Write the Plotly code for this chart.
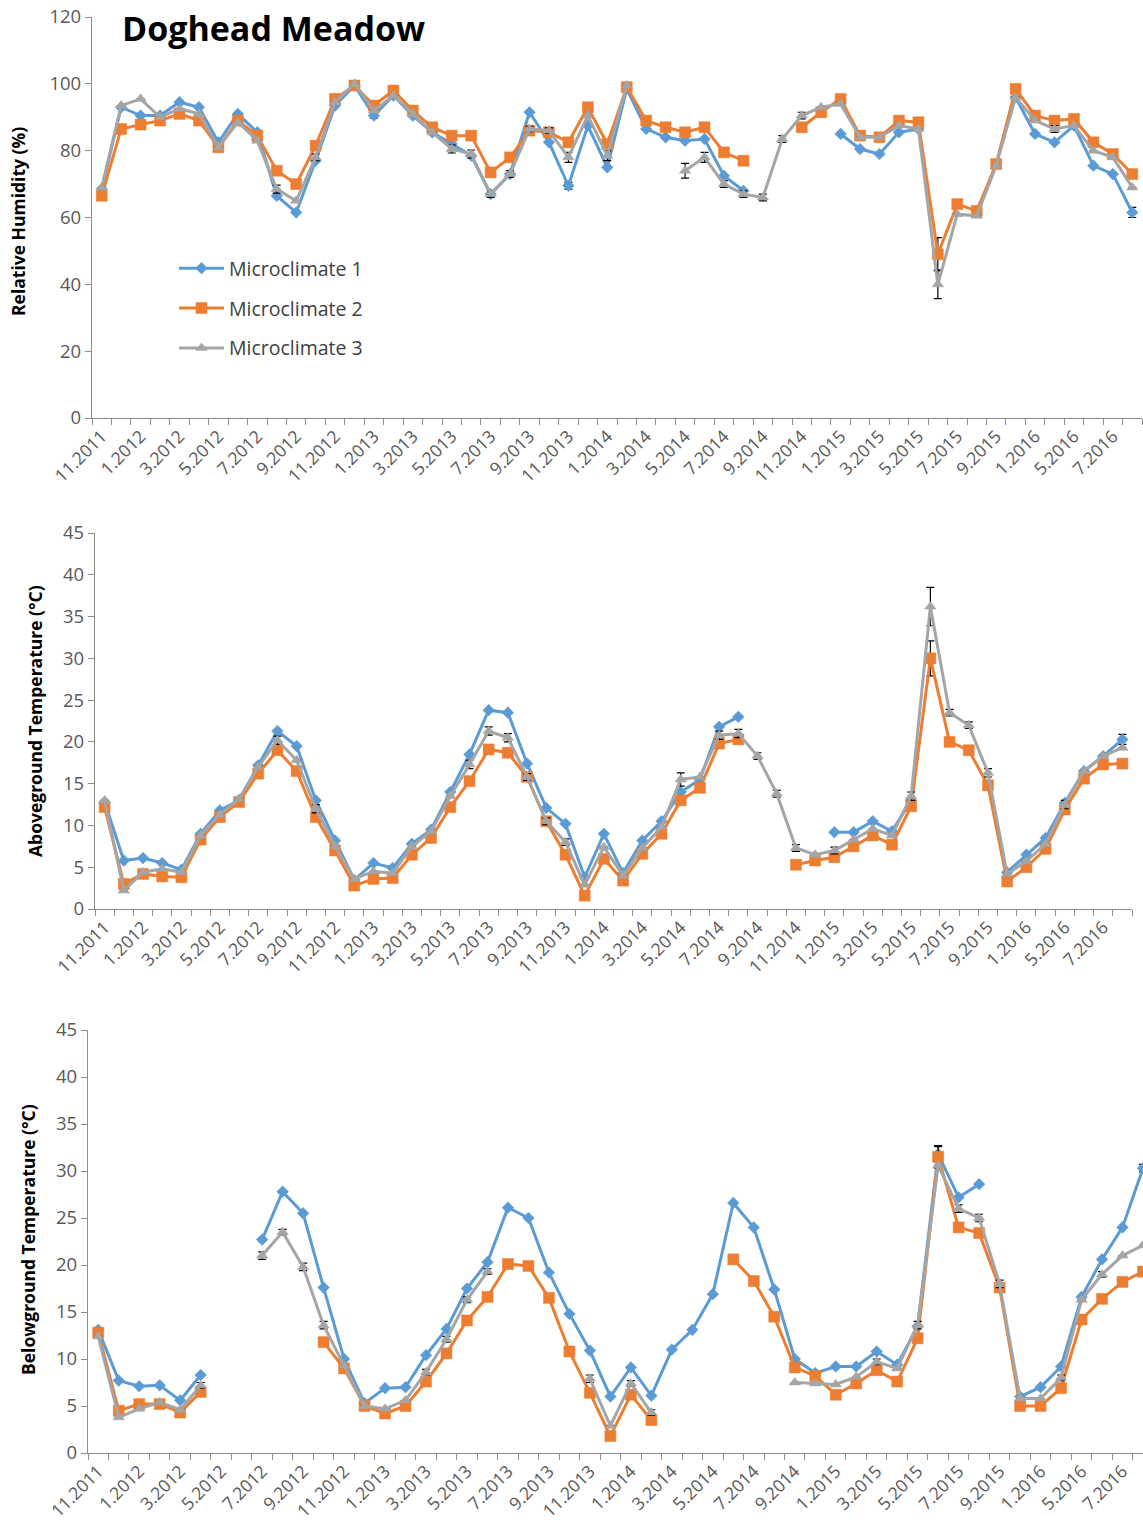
import plotly.graph_objects as go

# ---------------- categories ----------------
months = ["11.2011", "12.2011", "1.2012", "2.2012", "3.2012", "4.2012", "5.2012", "6.2012",
          "7.2012", "8.2012", "9.2012", "10.2012", "11.2012", "12.2012", "1.2013", "2.2013",
          "3.2013", "4.2013", "5.2013", "6.2013", "7.2013", "8.2013", "9.2013", "10.2013",
          "11.2013", "12.2013", "1.2014", "2.2014", "3.2014", "4.2014", "5.2014", "6.2014",
          "7.2014", "8.2014", "9.2014", "10.2014", "11.2014", "12.2014", "1.2015", "2.2015",
          "3.2015", "4.2015", "5.2015", "6.2015", "7.2015", "8.2015", "9.2015", "12.2015",
          "1.2016", "3.2016", "5.2016", "6.2016", "7.2016", "8.2016"]

months_bg = ["11.2011", "12.2011", "1.2012", "2.2012", "3.2012", "4.2012", "5.2012", "6.2012",
             "7.2012", "8.2012", "9.2012", "10.2012", "11.2012", "12.2012", "1.2013", "2.2013",
             "3.2013", "4.2013", "5.2013", "6.2013", "7.2013", "8.2013", "9.2013", "10.2013",
             "11.2013", "12.2013", "1.2014", "2.2014", "3.2014", "4.2014", "5.2014", "6.2014",
             "7.2014", "8.2014", "9.2014", "11.2014", "1.2015", "2.2015", "3.2015", "4.2015",
             "5.2015", "6.2015", "7.2015", "8.2015", "9.2015", "12.2015", "1.2016", "3.2016",
             "5.2016", "6.2016", "7.2016", "8.2016"]

series_names = ["Microclimate 1", "Microclimate 2", "Microclimate 3"]

# ---------------- Relative humidity (%) ----------------
rh_m1 = [68.5, 93, 90.5, 90.5, 94.5, 93, 82.5, 91, 85.5, 66.5, 61.5, 77, 93.5, 99.5, 90.5, 96.5,
         90.5, 85.5, 82, 78.5, 67, 73, 91.5, 82.5, 69.5, 87.5, 75, 98.5, 86.5, 84, 83, 83.5,
         72.5, 68, None, None, None, None, 85, 80.5, 79, 85.5, 86.5, None, None, None, None, 96,
         85, 82.5, 87.5, 75.5, 73, 61.5]
rh_m2 = [66.5, 86.5, 87.8, 89, 91, 89, 81, 89, 84.5, 74, 70, 81.5, 95.5, 99.5, 93.5, 98,
         92, 87, 84.5, 84.5, 73.5, 78, 86, 85.5, 82.5, 93, 82, 99, 89, 87, 85.5, 87,
         79.5, 77, None, None, 87, 91.5, 95.5, 84.5, 84, 89, 88.5, 49, 64, 62, 76, 98.5,
         90.5, 89, 89.5, 82.5, 79, 73]
rh_m3 = [69, 93.5, 95.5, 90, 92.5, 91, 81, 88.5, 83, 68.5, 65, 78, 94.5, 100, 92, 96.5,
         91, 85.5, 80.5, 79, 67, 73, 86.5, 86, 78, 90.5, 78.5, 99.5, None, None, 74, 78,
         70, 67, 66, 83.5, 90.5, 93, 94, 84, 84, 87.5, 86.5, 40, 61, 60.5, 75.5, 96,
         89, 86.5, 87.5, 80, 78, 69]
rh_e1 = [0, 0, 0, 0, 0, 0, 0, 0, 0, 0, 0, 0, 0, 0, 0.8, 0, 0, 0, 0, 0, 0, 0, 0, 0, 1.0, 0, 0, 0,
         0, 0, 0, 0, 0, 0, 0, 0, 0, 0, 0, 0, 0, 0, 0, 0, 0, 0, 0, 0, 0, 0, 0, 0, 0, 1.5]
rh_e2 = [0, 0, 0, 0, 0, 0, 0, 0, 0, 0, 0, 0, 0, 0, 0, 0, 0, 0, 0, 0, 0, 0, 0, 0, 0, 0, 0, 0,
         0, 0, 0, 0, 0, 0, 0, 0, 0, 0, 0, 0, 0, 0, 0, 5.0, 0, 0, 0, 0, 0, 0, 0, 0, 0, 0]
rh_e3 = [0, 0, 0, 0, 0, 0, 0, 0, 0, 1.2, 0, 1.0, 0, 0, 0, 0, 0, 0, 1.2, 1.2, 1.0, 1.0, 0.8, 0.8,
         1.5, 0, 1.5, 0, 0, 0, 2.2, 1.5, 1.0, 1.0, 1.0, 1.0, 1.0, 0, 0, 0, 0, 0, 0, 4.3, 0, 0,
         0, 0, 0, 1.0, 0, 0, 0, 0]

# ---------------- Aboveground temperature (°C) ----------------
ag_m1 = [12.8, 5.8, 6.1, 5.5, 4.7, 9.0, 11.8, 13.0, 17.2, 21.3, 19.5, 13.0, 8.2, 3.5, 5.5, 4.9,
         7.8, 9.5, 14.0, 18.5, 23.8, 23.5, 17.4, 12.1, 10.2, 3.8, 9.0, 4.3, 8.2, 10.5, 14.0, 15.5,
         21.8, 23.0, None, None, None, None, 9.2, 9.2, 10.5, 9.3, 13.0, None, None, None, None,
         4.4, 6.5, 8.5, 12.7, 16.5, 18.3, 20.3]
ag_m2 = [12.2, 3.0, 4.2, 3.9, 3.8, 8.3, 11.0, 12.8, 16.2, 19.0, 16.5, 11.0, 7.0, 2.8, 3.6, 3.7,
         6.5, 8.5, 12.2, 15.3, 19.1, 18.7, 15.8, 10.5, 6.5, 1.6, 6.0, 3.4, 6.6, 9.0, 13.0, 14.5,
         19.8, 20.3, None, None, 5.3, 5.8, 6.2, 7.5, 8.8, 7.7, 12.3, 30.0, 20.0, 19.0, 14.8,
         3.3, 5.0, 7.2, 11.9, 15.6, 17.3, 17.4]
ag_m3 = [13.0, 2.2, 4.4, 4.8, 4.4, 8.8, 11.3, 13.2, 17.0, 20.2, 17.8, 12.0, 7.5, 3.6, 4.5, 4.3,
         7.5, 9.3, 13.5, 17.3, 21.3, 20.5, 15.8, 10.5, 8.0, 2.9, 7.4, 4.0, 7.3, 9.8, 15.5, 15.8,
         20.8, 21.0, 18.3, 13.8, 7.3, 6.5, 7.0, 8.3, 9.6, 8.8, 13.5, 36.2, 23.5, 22.0, 16.3,
         4.2, 5.7, 7.8, 12.5, 16.5, 18.3, 19.3]
ag_e1 = [0] * 53 + [0.6]
ag_e2 = [0] * 43 + [2.1] + [0] * 10
ag_e3 = [0, 0, 0, 0, 0, 0, 0, 0, 0, 0.5, 0, 0.5, 0, 0, 0, 0, 0, 0, 0, 0.5, 0.5, 0.5, 0.4, 0.4,
         0.4, 0, 0, 0, 0, 0, 0.8, 0, 0.5, 0.5, 0.4, 0.4, 0.4, 0, 0.4, 0, 0, 0, 0.5, 2.3, 0.4, 0.4,
         0.5, 0, 0, 0, 0.5, 0, 0, 0]

# ---------------- Belowground temperature (°C) ----------------
bg_m1 = [13.1, 7.7, 7.1, 7.2, 5.6, 8.3, None, None, 22.7, 27.8, 25.5, 17.6, 10.0, 5.3, 6.9, 7.0,
         10.4, 13.2, 17.5, 20.3, 26.1, 25.0, 19.2, 14.8, 10.9, 6.0, 9.1, 6.1, 11.0, 13.1, 16.9,
         26.6, 24.0, 17.4, 10.0, 8.5, 9.2, 9.2, 10.8, 9.4, 13.5, 31.8, 27.2, 28.6, None, 6.0,
         7.0, 9.2, 16.6, 20.6, 24.0, 30.3]
bg_m2 = [12.8, 4.5, 5.2, 5.2, 4.3, 6.5, None, None, None, None, None, 11.8, 9.0, 5.0, 4.2, 5.0,
         7.6, 10.6, 14.1, 16.6, 20.1, 19.9, 16.5, 10.8, 6.4, 1.8, 6.2, 3.5, None, None, None,
         20.6, 18.3, 14.5, 9.1, 8.2, 6.2, 7.4, 8.8, 7.6, 12.2, 31.5, 24.0, 23.4, 17.6, 5.0,
         5.0, 6.9, 14.2, 16.4, 18.2, 19.3]
bg_m3 = [12.4, 3.8, 4.7, 5.4, 4.6, 7.2, None, None, 21.0, 23.5, 19.8, 13.6, 9.3, 5.0, 4.7, 5.6,
         8.6, 12.1, 16.3, 19.3, None, None, None, None, 7.9, 2.9, 7.4, 4.3, None, None, None,
         None, None, None, 7.5, 7.4, 7.3, 8.1, 9.7, 9.0, 13.6, 30.6, 26.0, 25.0, 18.0, 5.8,
         5.8, 8.0, 16.3, 19.0, 21.0, 22.1]
bg_e1 = [0] * 41 + [0.8] + [0] * 9 + [0.4]
bg_e2 = [0] * 41 + [1.2] + [0] * 10
bg_e3 = [0, 0, 0, 0, 0, 0.3, 0, 0, 0.4, 0.3, 0.4, 0.4, 0, 0, 0, 0, 0.3, 0.3, 0.3, 0.3, 0, 0,
         0, 0, 0.4, 0, 0.3, 0.3, 0, 0, 0, 0, 0, 0, 0, 0, 0, 0, 0.3, 0, 0.4, 0, 0.4, 0.4, 0.4,
         0, 0, 0.3, 0, 0.3, 0, 0]

# ---------------- styling ----------------
W, H = 1143, 1533
FONT = "Open Sans"
colors = ["#5B9BD5", "#ED7D31", "#A5A5A5"]
symbols = ["diamond", "square", "triangle-up"]
msizes = [9, 11, 10]
AXIS_COLOR = "#8C8C8C"
TICK_FONT_COLOR = "#595959"


def px_x(a, b):
    return [a / W, b / W]


def px_y(top, bottom):
    return [1 - bottom / H, 1 - top / H]


fig = go.Figure()

panels = [
    ("x", "y", months, [rh_m1, rh_m2, rh_m3], [rh_e1, rh_e2, rh_e3], True),
    ("x2", "y2", months, [ag_m1, ag_m2, ag_m3], [ag_e1, ag_e2, ag_e3], False),
    ("x3", "y3", months_bg, [bg_m1, bg_m2, bg_m3], [bg_e1, bg_e2, bg_e3], False),
]

for xa, ya, cats, ser, errs, show in panels:
    for k in range(3):
        fig.add_trace(go.Scatter(
            x=cats, y=ser[k], xaxis=xa, yaxis=ya,
            name=series_names[k], legendgroup=series_names[k], showlegend=show,
            mode="lines+markers",
            line=dict(color=colors[k], width=3),
            marker=dict(symbol=symbols[k], size=msizes[k], color=colors[k],
                        line=dict(color=colors[k], width=0.5)),
            error_y=dict(type="data", array=errs[k], color="black", thickness=1.2, width=4,
                         visible=True),
            connectgaps=False,
        ))


def xaxis_cfg(cats, domain, rng, anchor):
    return dict(
        domain=domain, anchor=anchor, type="category", categoryorder="array",
        categoryarray=cats, range=rng, tickmode="array", tickvals=cats,
        ticktext=[c if i % 2 == 0 else "" for i, c in enumerate(cats)],
        tickson="boundaries", ticks="outside", ticklen=6, tickcolor=AXIS_COLOR, tickwidth=1,
        tickangle=-45, tickfont=dict(family=FONT, size=17.5, color=TICK_FONT_COLOR),
        showline=True, linecolor=AXIS_COLOR, linewidth=1.3, showgrid=False, zeroline=False,
        automargin=False, fixedrange=True,
    )


def yaxis_cfg(domain, rng, dtick, anchor):
    return dict(
        domain=domain, range=rng, dtick=dtick, tick0=0, anchor=anchor,
        ticks="outside", ticklen=6, tickcolor=AXIS_COLOR, tickwidth=1,
        tickfont=dict(family=FONT, size=18.5, color=TICK_FONT_COLOR),
        showline=True, linecolor=AXIS_COLOR, linewidth=1.3, showgrid=False, zeroline=False,
        automargin=False, fixedrange=True,
    )


fig.update_layout(
    width=W, height=H,
    margin=dict(l=0, r=0, t=0, b=0, autoexpand=False),
    paper_bgcolor="white", plot_bgcolor="white",
    font=dict(family=FONT, color="#404040"),
    xaxis=xaxis_cfg(months, px_x(92, 1142), [-0.5, 53.5], "y"),
    yaxis=yaxis_cfg(px_y(17, 418), [0, 120], 20, "x"),
    xaxis2=xaxis_cfg(months, px_x(95, 1132), [-0.5, 53.5], "y2"),
    yaxis2=yaxis_cfg(px_y(533, 909), [0, 45], 5, "x2"),
    xaxis3=xaxis_cfg(months_bg, px_x(88, 1143), [-0.5, 51.0], "y3"),
    yaxis3=yaxis_cfg(px_y(1030, 1453), [0, 45], 5, "x3"),
    showlegend=True,
    legend=dict(
        x=174 / W, y=1 - 249 / H, xanchor="left", yanchor="top",
        bgcolor="rgba(255,255,255,0)", borderwidth=0,
        font=dict(family=FONT, size=19.5, color="#404040"),
        traceorder="grouped", tracegroupgap=11.5, itemwidth=45,
    ),
)

annotations = [
    dict(text="<b>Doghead Meadow</b>", x=120 / W, y=1 - 28 / H, xref="paper", yref="paper",
         xanchor="left", yanchor="middle", showarrow=False,
         font=dict(family=FONT, size=34, color="black")),
    dict(text="<b>Relative Humidity (%)</b>", x=18 / W, y=1 - 222 / H, xref="paper",
         yref="paper", textangle=-90, showarrow=False, xanchor="center", yanchor="middle",
         font=dict(family=FONT, size=17.5, color="black")),
    dict(text="<b>Aboveground Temperature (°C)</b>", x=35 / W, y=1 - 721 / H, xref="paper",
         yref="paper", textangle=-90, showarrow=False, xanchor="center", yanchor="middle",
         font=dict(family=FONT, size=17.5, color="black")),
    dict(text="<b>Belowground Temperature (°C)</b>", x=28 / W, y=1 - 1240 / H, xref="paper",
         yref="paper", textangle=-90, showarrow=False, xanchor="center", yanchor="middle",
         font=dict(family=FONT, size=17.5, color="black")),
]
fig.update_layout(annotations=annotations)

fig.write_html("out.html")
